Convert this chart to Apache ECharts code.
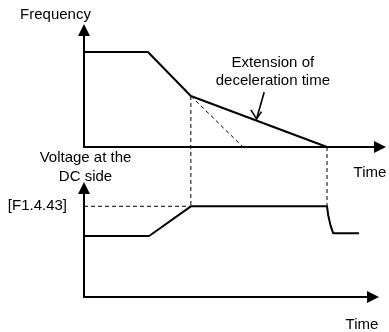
<!DOCTYPE html>
<html>
<head>
<meta charset="utf-8">
<script src="https://cdn.jsdelivr.net/npm/echarts@6/dist/echarts.min.js"></script>
<style>
  html, body { margin: 0; padding: 0; background: #fff; }
  #chart { width: 389px; height: 332px; }
</style>
</head>
<body>
<div id="chart"></div>
<script>
// Output frequency during deceleration (time in % of span, frequency in % of axis)
const freqTime  = [0, 21.6, 36.1, 82.1];
const freqValue = [81.2, 81.2, 43.6, 0];

// Original deceleration ramp, had it not been extended
const rampTime  = [36.1, 53.7];
const rampValue = [43.6, 0];

// Voltage at the DC side
const voltTime  = [0, 22.0, 36.1, 82.1, 82.5, 83.3, 84.2, 92.9];
const voltValue = [56.0, 56.0, 83.2, 83.2, 75.0, 65.5, 58.4, 58.4];

// Stall-prevention voltage threshold
const limitValue = 83.2;
const limitLabel = '[F1.4.43]';

// Time points where the dashed guides drop from the frequency curve
const guideTime  = [36.1, 82.1];
const guideValue = [43.6, 0];

// Point on the extended ramp that the callout arrow touches
const calloutTime  = 58.3;
const calloutValue = 24;
const calloutText  = 'Extension of\ndeceleration time';

const FONT = '"Liberation Sans", Arial, sans-serif';
const INK = '#000';

const zip = (xs, ys) => xs.map((x, i) => [x, ys[i]]);

function axisBase(extra) {
  return Object.assign({
    type: 'value',
    axisLine: {
      show: true,
      symbol: ['none', 'triangle'],
      symbolSize: [12, 12],
      lineStyle: { color: INK, width: 2 }
    },
    axisTick: { show: false },
    axisLabel: { show: false },
    splitLine: { show: false },
    nameTextStyle: { color: INK, fontSize: 15, fontFamily: FONT }
  }, extra);
}

const chart = echarts.init(document.getElementById('chart'), null, { renderer: 'canvas' });

const option = {
  animation: false,
  backgroundColor: '#fff',
  grid: [
    { left: 84, top: 30, width: 296, height: 117 },
    { left: 84, top: 188, width: 289, height: 116 }
  ],
  xAxis: [
    axisBase({
      gridIndex: 0, min: 0, max: 100,
      name: 'Time', nameLocation: 'end', nameGap: -10,
      nameTextStyle: { color: INK, fontSize: 15, fontFamily: FONT, align: 'center', verticalAlign: 'top', padding: [18, 0, 0, 0] }
    }),
    axisBase({
      gridIndex: 1, min: 0, max: 289 / 2.96,
      name: 'Time', nameLocation: 'end', nameGap: -11,
      nameTextStyle: { color: INK, fontSize: 15, fontFamily: FONT, align: 'center', verticalAlign: 'top', padding: [20, 0, 0, 0] }
    })
  ],
  yAxis: [
    axisBase({
      gridIndex: 0, min: 0, max: 100,
      name: 'Frequency', nameLocation: 'end', nameGap: 8,
      nameTextStyle: { color: INK, fontSize: 15, fontFamily: FONT, padding: [0, 57, 0, 0] }
    }),
    axisBase({
      gridIndex: 1, min: 0, max: 100,
      name: 'Voltage at the\nDC side', nameLocation: 'end', nameGap: 1,
      nameTextStyle: { color: INK, fontSize: 15, fontFamily: FONT, lineHeight: 19.5, padding: [0, 0, 0, 3] },
      axisLabel: {
        show: true,
        customValues: [limitValue],
        formatter: () => limitLabel,
        color: INK, fontSize: 15, fontFamily: FONT, margin: 17,
        padding: [5, 0, 0, 0]
      }
    })
  ],
  series: [
    {
      name: 'frequency', type: 'line', xAxisIndex: 0, yAxisIndex: 0,
      data: zip(freqTime, freqValue), symbol: 'none', clip: false,
      lineStyle: { color: INK, width: 2 }
    },
    {
      name: 'original ramp', type: 'line', xAxisIndex: 0, yAxisIndex: 0,
      data: zip(rampTime, rampValue), symbol: 'none', clip: false,
      lineStyle: { color: INK, width: 1, type: [4, 3] }
    },
    {
      name: 'dc voltage', type: 'line', xAxisIndex: 1, yAxisIndex: 1,
      data: zip(voltTime, voltValue), symbol: 'none', clip: false,
      lineStyle: { color: INK, width: 2 }
    },
    {
      name: 'threshold', type: 'line', xAxisIndex: 1, yAxisIndex: 1,
      data: [[0, limitValue], [guideTime[0], limitValue]], symbol: 'none', clip: false,
      lineStyle: { color: INK, width: 1, type: [4, 3] }
    },
    {
      name: 'callout', type: 'custom', xAxisIndex: 0, yAxisIndex: 0,
      coordinateSystem: 'cartesian2d', clip: false, silent: true,
      data: [[calloutTime, calloutValue]],
      encode: { x: 0, y: 1 },
      renderItem: function (params, api) {
        const p = api.coord([api.value(0), api.value(1)]);
        const line = { stroke: INK, lineWidth: 1.6, fill: null };
        return {
          type: 'group',
          children: [
            { type: 'polyline', shape: { points: [[p[0] + 7.6, p[1] - 26.6], [p[0], p[1]]] }, style: line },
            { type: 'polyline', shape: { points: [[p[0] - 5.7, p[1] - 9], [p[0], p[1]], [p[0] + 5, p[1] - 7.3]] }, style: line },
            {
              type: 'text', x: p[0] + 16.3, y: p[1] - 47.3,
              style: {
                text: calloutText, align: 'center', verticalAlign: 'middle',
                fontSize: 15, fontFamily: FONT, lineHeight: 18, fill: INK
              }
            }
          ]
        };
      }
    }
  ]
};

chart.setOption(option);

// Vertical guides run from the frequency curve down to the voltage threshold level;
// the lower end is mapped from the voltage grid into the frequency grid.
const guideSeries = guideTime.map(function (t, i) {
  const px = chart.convertToPixel({ xAxisIndex: 1, yAxisIndex: 1 }, [t, limitValue]);
  const lower = chart.convertFromPixel({ xAxisIndex: 0, yAxisIndex: 0 }, px);
  return {
    name: 'guide ' + i, type: 'line', xAxisIndex: 0, yAxisIndex: 0,
    data: [[t, guideValue[i]], [t, lower[1]]], symbol: 'none', clip: false,
    lineStyle: { color: INK, width: 1, type: [4, 3] }
  };
});

chart.setOption({ series: option.series.concat(guideSeries) });
</script>
</body>
</html>
